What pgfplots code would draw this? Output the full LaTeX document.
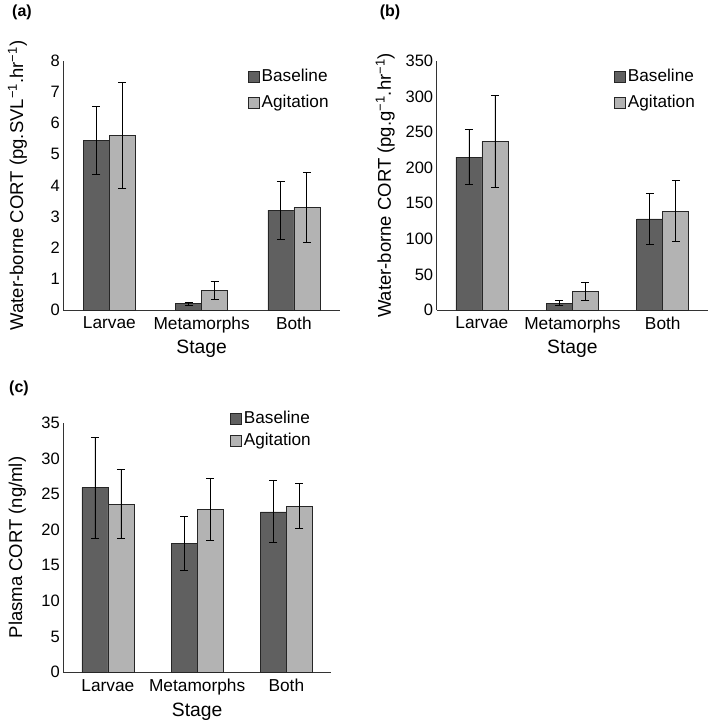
\documentclass[border=0pt]{standalone}
\usepackage{pgfplots}
\pgfplotsset{compat=1.18}
\usepackage{fontspec}
\setmainfont{Liberation Sans}

\definecolor{basecol}{HTML}{606060}
\definecolor{agitcol}{HTML}{B3B3B3}

\pgfplotsset{
  cortbar/.style={
    scale only axis,
    ybar=0pt, bar width=26pt,
    axis x line*=bottom, axis y line*=left,
    axis line style={draw=black!80, line width=0.8pt},
    xmin=-0.5, xmax=2.5, ymin=0,
    xtick={0,1,2}, xticklabels={Larvae,Metamorphs,Both},
    major tick length=0pt,
    tick label style={font=\fontsize{16.5}{19}\selectfont},
    xticklabel style={yshift=-3.5pt, font=\fontsize{17.3}{20}\selectfont},
    /pgf/number format/assume math mode=true,
    xlabel=Stage,
    label style={font=\fontsize{18.5}{21}\selectfont},
    xlabel style={at={(axis description cs:0.5,0)}, anchor=center, yshift=-39pt,
      font=\fontsize{19.3}{22}\selectfont},
    legend style={draw=none, fill=none, anchor=north west, inner sep=0pt,
      font=\fontsize{17.2}{20}\selectfont, row sep=8pt,
      /tikz/every even column/.append style={column sep=2pt}},
    legend cell align=left,
    legend image code/.code={\draw[#1, line width=0.6pt] (0pt,-5.5pt) rectangle (11pt,5.5pt);},
  },
  errs/.style={
    error bars/.cd, y dir=both, y explicit,
    error bar style={black, line width=0.8pt},
    error mark options={rotate=90, mark size=4pt, black, line width=0.8pt},
  },
}

\begin{document}
\begin{tikzpicture}
\useasboundingbox (0,0) rectangle (709pt,-724pt);

% (a) water-borne CORT per SVL
\begin{axis}[cortbar,
  at={(63.3pt,-310pt)}, anchor=south west,
  width=276.7pt, height=249pt,
  ymax=8, ytick distance=1,
  ylabel={Water-borne CORT (pg.SVL\textsuperscript{−1}.hr\textsuperscript{−1})},
  ylabel style={at={(axis description cs:-0.166,0.5)}, anchor=center},
  legend style={at={(0.667,0.975)}},
]
\addplot[fill=basecol, draw=black!85, line width=0.6pt, errs] coordinates {
  (0,5.45) +- (0,1.08)
  (1,0.20) +- (0,0.06)
  (2,3.21) +- (0,0.93)
};
\addplot[fill=agitcol, draw=black!85, line width=0.6pt, errs] coordinates {
  (0,5.61) +- (0,1.69)
  (1,0.63) +- (0,0.30)
  (2,3.29) +- (0,1.12)
};
\legend{Baseline, Agitation}
\end{axis}

% (b) water-borne CORT per g
\begin{axis}[cortbar,
  at={(436.7pt,-310pt)}, anchor=south west,
  width=271.3pt, height=249pt,
  ymax=350, ytick distance=50,
  ylabel={Water-borne CORT (pg.g\textsuperscript{−1}.hr\textsuperscript{−1})},
  ylabel style={at={(axis description cs:-0.19,0.5)}, anchor=center},
  legend style={at={(0.654,0.975)}},
]
\addplot[fill=basecol, draw=black!85, line width=0.6pt, errs] coordinates {
  (0,215) +- (0,39)
  (1,9.4) +- (0,3.5)
  (2,128) +- (0,36.3)
};
\addplot[fill=agitcol, draw=black!85, line width=0.6pt, errs] coordinates {
  (0,237) +- (0,64)
  (1,26.5) +- (0,12.7)
  (2,139) +- (0,43)
};
\legend{Baseline, Agitation}
\end{axis}

% (c) plasma CORT
\begin{axis}[cortbar,
  at={(63.3pt,-672.3pt)}, anchor=south west,
  width=267.7pt, height=249.6pt,
  ymax=35, ytick distance=5,
  ylabel={Plasma CORT (ng/ml)},
  ylabel style={at={(axis description cs:-0.172,0.5)}, anchor=center},
  legend style={at={(0.623,1.054)}, row sep=4pt},
]
\addplot[fill=basecol, draw=black!85, line width=0.6pt, errs] coordinates {
  (0,25.9) +- (0,7.1)
  (1,18.1) +- (0,3.8)
  (2,22.5) +- (0,4.35)
};
\addplot[fill=agitcol, draw=black!85, line width=0.6pt, errs] coordinates {
  (0,23.6) +- (0,4.8)
  (1,22.9) +- (0,4.35)
  (2,23.3) +- (0,3.15)
};
\legend{Baseline, Agitation}
\end{axis}

\node[font=\fontsize{16}{19}\selectfont\bfseries] at (22pt,-12pt) {(a)};
\node[font=\fontsize{16}{19}\selectfont\bfseries] at (390pt,-12pt) {(b)};
\node[font=\fontsize{16}{19}\selectfont\bfseries] at (19pt,-388pt) {(c)};
\end{tikzpicture}
\end{document}
